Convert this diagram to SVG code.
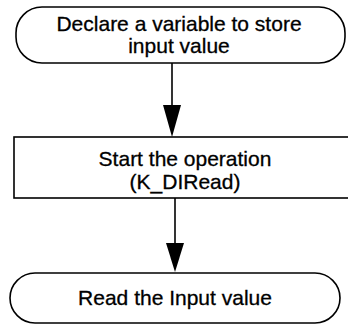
<svg xmlns="http://www.w3.org/2000/svg" width="348" height="326" viewBox="0 0 348 326">
<style>
.box{fill:#fff;stroke:#000;stroke-width:1.6}
.t{font-family:"Liberation Sans",Arial,sans-serif;font-size:21px;fill:#000;stroke:#000;stroke-width:0.3;text-anchor:middle}
.ln{stroke:#000;stroke-width:1.6;fill:none}
.hd{fill:#000}
</style>
<rect width="348" height="326" fill="#fff"/>
<g id="connectors">
<line class="ln" x1="172" y1="63" x2="172" y2="108"/>
<polygon class="hd" points="163,105 181,105 172,137"/>
<line class="ln" x1="175" y1="198" x2="175" y2="246"/>
<polygon class="hd" points="166,243 184,243 175,272"/>
</g>
<g id="node1">
<rect class="box" x="16" y="7" width="329" height="56" rx="26" ry="26"/>
<text class="t" x="179" y="31">Declare a variable to store</text>
<text class="t" x="179" y="53">input value</text>
</g>
<g id="node2">
<rect class="box" x="14" y="137" width="340" height="61"/>
<text class="t" x="185" y="166">Start the operation</text>
<text class="t" x="185" y="189">(K_DIRead)</text>
</g>
<g id="node3">
<rect class="box" x="10" y="273" width="330" height="50" rx="25" ry="25"/>
<text class="t" x="175" y="305">Read the Input value</text>
</g>
</svg>
